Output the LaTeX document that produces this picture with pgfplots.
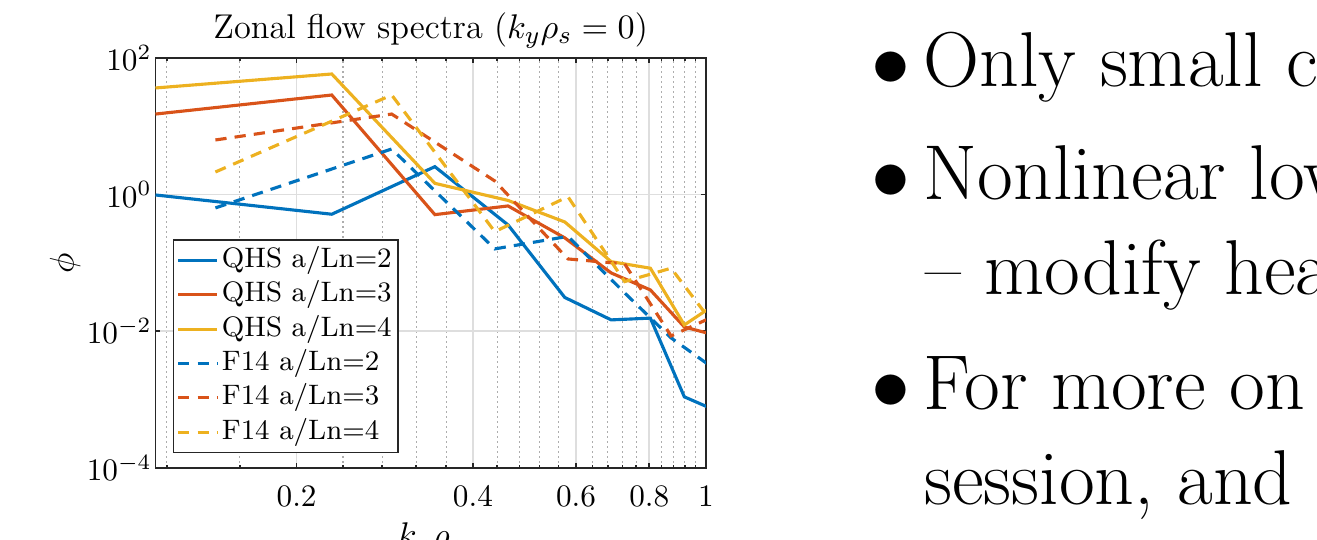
\documentclass[border=0pt]{standalone}
\usepackage{pgfplots}
\pgfplotsset{compat=1.18}
\definecolor{mblue}{rgb}{0,0.447,0.741}
\definecolor{morange}{rgb}{0.85,0.325,0.098}
\definecolor{myellow}{rgb}{0.929,0.694,0.125}
\definecolor{axgray}{rgb}{0.15,0.15,0.15}
\begin{document}
\begin{tikzpicture}
\useasboundingbox (0,0) rectangle (421.44pt,172.8pt);
\begin{axis}[
  at={(49.76pt,23.14pt)}, anchor=south west,
  scale only axis, width=176.16pt, height=131.1pt,
  xmode=log, ymode=log,
  xmin=0.1148, xmax=1, ymin=1e-4, ymax=1e2,
  xtick={0.2,0.4,0.6,0.8,1}, xticklabels={0.2,0.4,0.6,0.8,1},
  minor xtick={0.12,0.16,0.24,0.28,0.32,0.36,0.44,0.48,0.52,0.56,0.64,0.68,0.72,0.76,0.84,0.88,0.92,0.96},
  ytick={1e-4,1e-2,1,1e2},
  yminorticks=false,
  tick align=inside, tick pos=both,
  major tick length=1.6pt, minor tick length=0.9pt,
  every tick/.style={axgray, line width=0.5pt},
  axis line style={axgray, line width=0.6pt},
  xmajorgrids, xminorgrids, ymajorgrids,
  major grid style={color=black!13, line width=0.5pt},
  minor grid style={color=black!32, line width=0.35pt, dash pattern=on 0.45pt off 1.15pt},
  xticklabel style={yshift=-2.2pt},
  yticklabel style={xshift=2.3pt},
  title={Zonal flow spectra ($k_y\rho_s = 0$)},
  title style={at={(axis description cs:0.5,1.0478)}, anchor=base, yshift=-6pt, font=\fontsize{11}{13}\selectfont},
  xlabel={$k_x\rho_s$},
  xlabel style={at={(axis description cs:0.5,-0.1933)}, anchor=base, font=\fontsize{11}{13}\selectfont},
  ylabel={$\phi$},
  ylabel style={at={(axis description cs:-0.1644,0.5)}, anchor=center, font=\fontsize{11}{13}\selectfont},
  every axis plot/.append style={line width=1pt},
  legend image code/.code={\draw[#1] (0pt,0pt) -- (12.5pt,0pt);},
  legend style={at={(axis description cs:0.0312,0.5575)}, anchor=north west,
    draw=axgray, line width=0.5pt, fill=white, inner xsep=1pt, inner ysep=1pt,
    font=\fontsize{9}{10}\selectfont,
    nodes={inner sep=1pt, text height=6.75pt, text depth=2.25pt},
    cells={anchor=west}},
]
\addplot[mblue] coordinates {(0.1148,0.986) (0.2296,0.515) (0.3444,2.56) (0.4592,0.359) (0.574,0.0311) (0.6888,0.0146) (0.8036,0.0155) (0.9184,0.00109) (1.0332,0.000702)};
\addlegendentry{QHS a/Ln=2}
\addplot[morange] coordinates {(0.1148,15.1) (0.2296,28.7) (0.3444,0.508) (0.4592,0.681) (0.574,0.232) (0.6888,0.0711) (0.8036,0.0401) (0.9184,0.0115) (1.0332,0.00879)};
\addlegendentry{QHS a/Ln=3}
\addplot[myellow] coordinates {(0.1148,36.4) (0.2296,58.3) (0.3444,1.46) (0.4592,0.82) (0.574,0.397) (0.6888,0.104) (0.8036,0.0834) (0.9184,0.0123) (1.0332,0.0242)};
\addlegendentry{QHS a/Ln=4}
\addplot[mblue, dash pattern=on 3.6pt off 2.6pt] coordinates {(0.1453,0.637) (0.2906,4.65) (0.4359,0.160) (0.5812,0.244) (0.7265,0.0362) (0.8718,0.00795) (1.0171,0.00309)};
\addlegendentry{F14 a/Ln=2}
\addplot[morange, dash pattern=on 3.6pt off 2.6pt] coordinates {(0.1453,6.30) (0.2906,15.1) (0.4359,1.58) (0.5812,0.114) (0.7265,0.0964) (0.8718,0.00851) (1.0171,0.0156)};
\addlegendentry{F14 a/Ln=3}
\addplot[myellow, dash pattern=on 3.6pt off 2.6pt] coordinates {(0.1453,2.14) (0.2906,28.7) (0.4359,0.286) (0.5812,0.931) (0.7265,0.0531) (0.8718,0.0834) (1.0171,0.0146)};
\addlegendentry{F14 a/Ln=4}
\end{axis}
\node[anchor=base west, inner sep=0pt] at (278.6pt,144.96pt) {\Huge$\bullet$};
\node[anchor=base west, inner sep=0pt] at (295.4pt,144.96pt) {\Huge Only small changes};
\node[anchor=base west, inner sep=0pt] at (278.6pt,108.8pt) {\Huge$\bullet$};
\node[anchor=base west, inner sep=0pt] at (295.4pt,108.8pt) {\Huge Nonlinear low};
\node[anchor=base west, inner sep=0pt] at (296pt,78.4pt) {\Huge\textendash{} modify heat};
\node[anchor=base west, inner sep=0pt] at (278.6pt,41.6pt) {\Huge$\bullet$};
\node[anchor=base west, inner sep=0pt] at (295.4pt,41.6pt) {\Huge For more on};
\node[anchor=base west, inner sep=0pt] at (295.6pt,11.2pt) {\Huge session, and};
\end{tikzpicture}
\end{document}
